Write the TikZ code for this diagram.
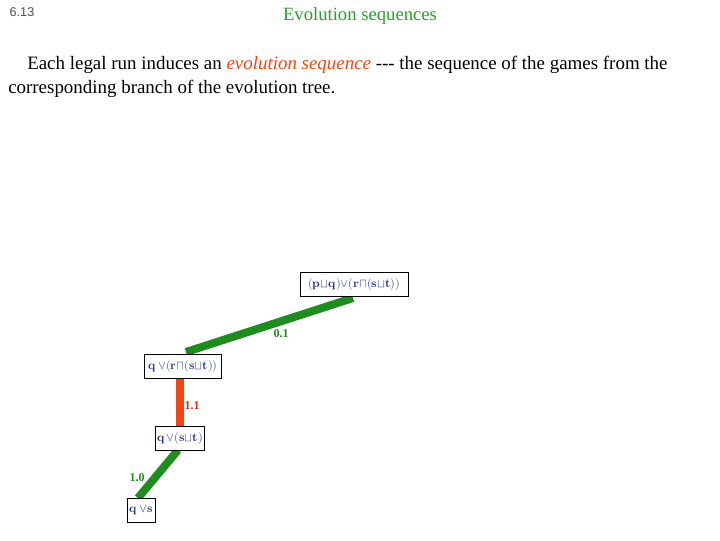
\documentclass[tikz,border=0pt]{standalone}
\usepackage{fontspec}
\usepackage{unicode-math}
\setmainfont{Liberation Serif}
\setsansfont{Liberation Sans}
\setmathfont{Latin Modern Math}
\definecolor{tgreen}{RGB}{40,160,40}
\definecolor{egreen}{RGB}{30,140,30}
\definecolor{ered}{RGB}{240,70,20}
\definecolor{nblue}{RGB}{30,50,140}
\newcommand{\ou}{{\sqcup}}
\newcommand{\oa}{{\sqcap}}
\newcommand{\ov}{{\vee}}
\tikzset{gnode/.style={draw,fill=white,line width=0.6pt,inner xsep=1pt,inner ysep=2pt,minimum height=18pt,font=\fontsize{9}{10}\selectfont\bfseries,text=nblue},
 gedge/.style={line width=6pt,egreen},
 redge/.style={line width=6pt,ered},
 elab/.style={font=\fontsize{9}{10}\selectfont\bfseries}}
\begin{document}
\begin{tikzpicture}[x=0.75pt,y=-0.75pt]
\useasboundingbox (0,0) rectangle (720,540);
\node[font=\sffamily\fontsize{9.5}{10}\selectfont,text=black!70] (num) at (22,12) {6.13};
\node[font=\fontsize{14}{16}\selectfont,text=tgreen] (title) at (360,16) {Evolution sequences};
\node[font=\fontsize{14.2}{16}\selectfont,anchor=west,inner sep=0pt] (l1) at (27,65) {Each legal run induces an \textcolor{ered}{\itshape evolution sequence} {-}{-}{-} the sequence of the games from the};
\node[font=\fontsize{14.2}{16}\selectfont,anchor=west,inner sep=0pt] (l2) at (8,89) {corresponding branch of the evolution tree.};
\coordinate (a1) at (353,298); \coordinate (b1) at (186,352);
\coordinate (a3) at (178,450); \coordinate (b3) at (138,498);
\draw[gedge] (a1) -- (b1);
\draw[redge] (180,376) -- (180,428);
\draw[gedge] (a3) -- (b3);
\node[gnode,minimum width=81pt] (n1) at (354,284) {$(\symbf{p}\ou\symbf{q})\ov(\symbf{r}\oa(\symbf{s}\ou\symbf{t}))$};
\node[gnode,minimum width=58pt] (n2) at (183,366) {$\symbf{q}\,\ov(\symbf{r}\oa(\symbf{s}\ou\symbf{t}))$};
\node[gnode,minimum width=36pt] (n3) at (180,438) {$\symbf{q}\,\ov(\symbf{s}\ou\symbf{t})$};
\node[gnode,minimum width=21pt] (n4) at (141,510) {$\symbf{q}\,\ov\symbf{s}$};
\node[elab,text=egreen] (t1) at (281,334) {0.1};
\node[elab,text=ered!80!black] (t2) at (192,406) {1.1};
\node[elab,text=egreen] (t3) at (137,478) {1.0};
\end{tikzpicture}
\end{document}
